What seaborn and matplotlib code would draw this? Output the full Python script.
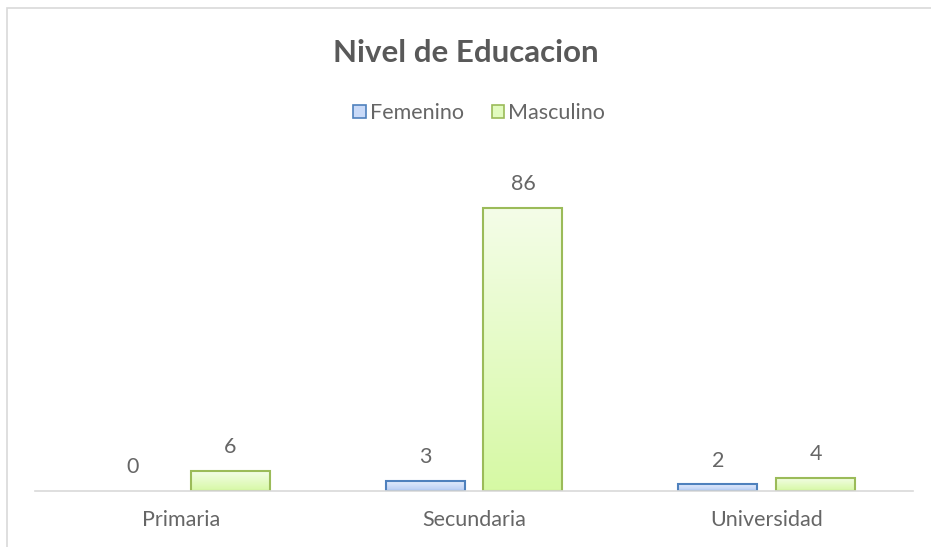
import numpy as np
import pandas as pd
import matplotlib
matplotlib.use("Agg")
import matplotlib.pyplot as plt
import seaborn as sns
from matplotlib.colors import LinearSegmentedColormap
from matplotlib.patches import Rectangle, Patch

categories = ["Primaria", "Secundaria", "Universidad"]
femenino = [0, 3, 2]
masculino = [6, 86, 4]
series_names = ["Femenino", "Masculino"]
title = "Nivel de Educacion"

df = pd.DataFrame({
    "nivel": categories * 2,
    "valor": femenino + masculino,
    "sexo": [series_names[0]] * 3 + [series_names[1]] * 3,
})

sns.set_theme(style="white")
plt.rcParams["font.family"] = ["Lato", "DejaVu Sans"]

gray = "#595959"
text_gray = "#666666"
edge_cols = {"Femenino": "#4f81bd", "Masculino": "#9bbb59"}
fill_cols = {"Femenino": "#c9daf8", "Masculino": "#e2fbbf"}
grads = {
    "Femenino": ("#e3ecfc", "#b7cdf4"),
    "Masculino": ("#f4fde8", "#d6f9a4"),
}

fig = plt.figure(figsize=(9.31, 5.47), dpi=100)
W, H = 931, 547
ax = fig.add_axes([35 / W, 56 / H, 878 / W, 329 / H])

sns.barplot(data=df, x="nivel", y="valor", hue="sexo", order=categories,
            hue_order=series_names, palette=fill_cols, width=0.668, gap=0.19,
            ax=ax, legend=False, saturation=1)

ax.set_ylim(0, 100)
ax.set_xlim(-0.5, 2.5)

# style bars, gradient fill and labels
for cont, name in zip(ax.containers, series_names):
    c_top, c_bot = grads[name]
    cmap = LinearSegmentedColormap.from_list(name, [c_bot, c_top])
    grad = np.linspace(0, 1, 256).reshape(-1, 1)
    for p in cont.patches:
        p.set_edgecolor(edge_cols[name])
        p.set_linewidth(1.5)
        x0, y0 = p.get_x(), p.get_y()
        w, h = p.get_width(), p.get_height()
        if h > 0:
            im = ax.imshow(grad, extent=[x0, x0 + w, y0, y0 + h], origin="lower",
                           cmap=cmap, aspect="auto", zorder=p.get_zorder() - 0.1)
            im.set_clip_path(p)
            p.set_facecolor("none")
            p.set_zorder(p.get_zorder() + 0.2)
        else:
            p.set_edgecolor("none")
            p.set_facecolor("none")
    ax.bar_label(cont, labels=[str(int(v)) for v in cont.datavalues],
                 padding=10, color=text_gray, fontsize=15.5)

ax.set_aspect("auto")
ax.set_xlim(-0.5, 2.5)
ax.set_ylim(0, 100)

ax.set_xlabel("")
ax.set_ylabel("")
ax.set_yticks([])
ax.tick_params(axis="x", length=0, pad=14, labelsize=15.5, labelcolor=text_gray)
for s in ["top", "left", "right"]:
    ax.spines[s].set_visible(False)
ax.spines["bottom"].set_color("#d9d9d9")
ax.spines["bottom"].set_linewidth(1.2)
ax.patch.set_alpha(0)

fig.text(466 / W, 1 - 53 / H, title, ha="center", va="center",
         fontsize=22.5, fontweight="bold", color=gray)

handles = [Patch(facecolor=fill_cols[n], edgecolor=edge_cols[n], linewidth=1.2, label=n)
           for n in series_names]
fig.legend(handles=handles, loc="center", bbox_to_anchor=(479 / W, 1 - 113 / H),
           ncol=2, frameon=False, fontsize=15.5, labelcolor=text_gray,
           handlelength=0.6, handleheight=0.6, handletextpad=0.15, columnspacing=1.3)

# chart area border
fig.add_artist(Rectangle((6.5 / W, -0.1), 1.2, 1 - 7.5 / H + 0.1,
                         transform=fig.transFigure, fill=False,
                         edgecolor="#d9d9d9", linewidth=1.2))

fig.savefig("out.png", dpi=100, facecolor="white")
